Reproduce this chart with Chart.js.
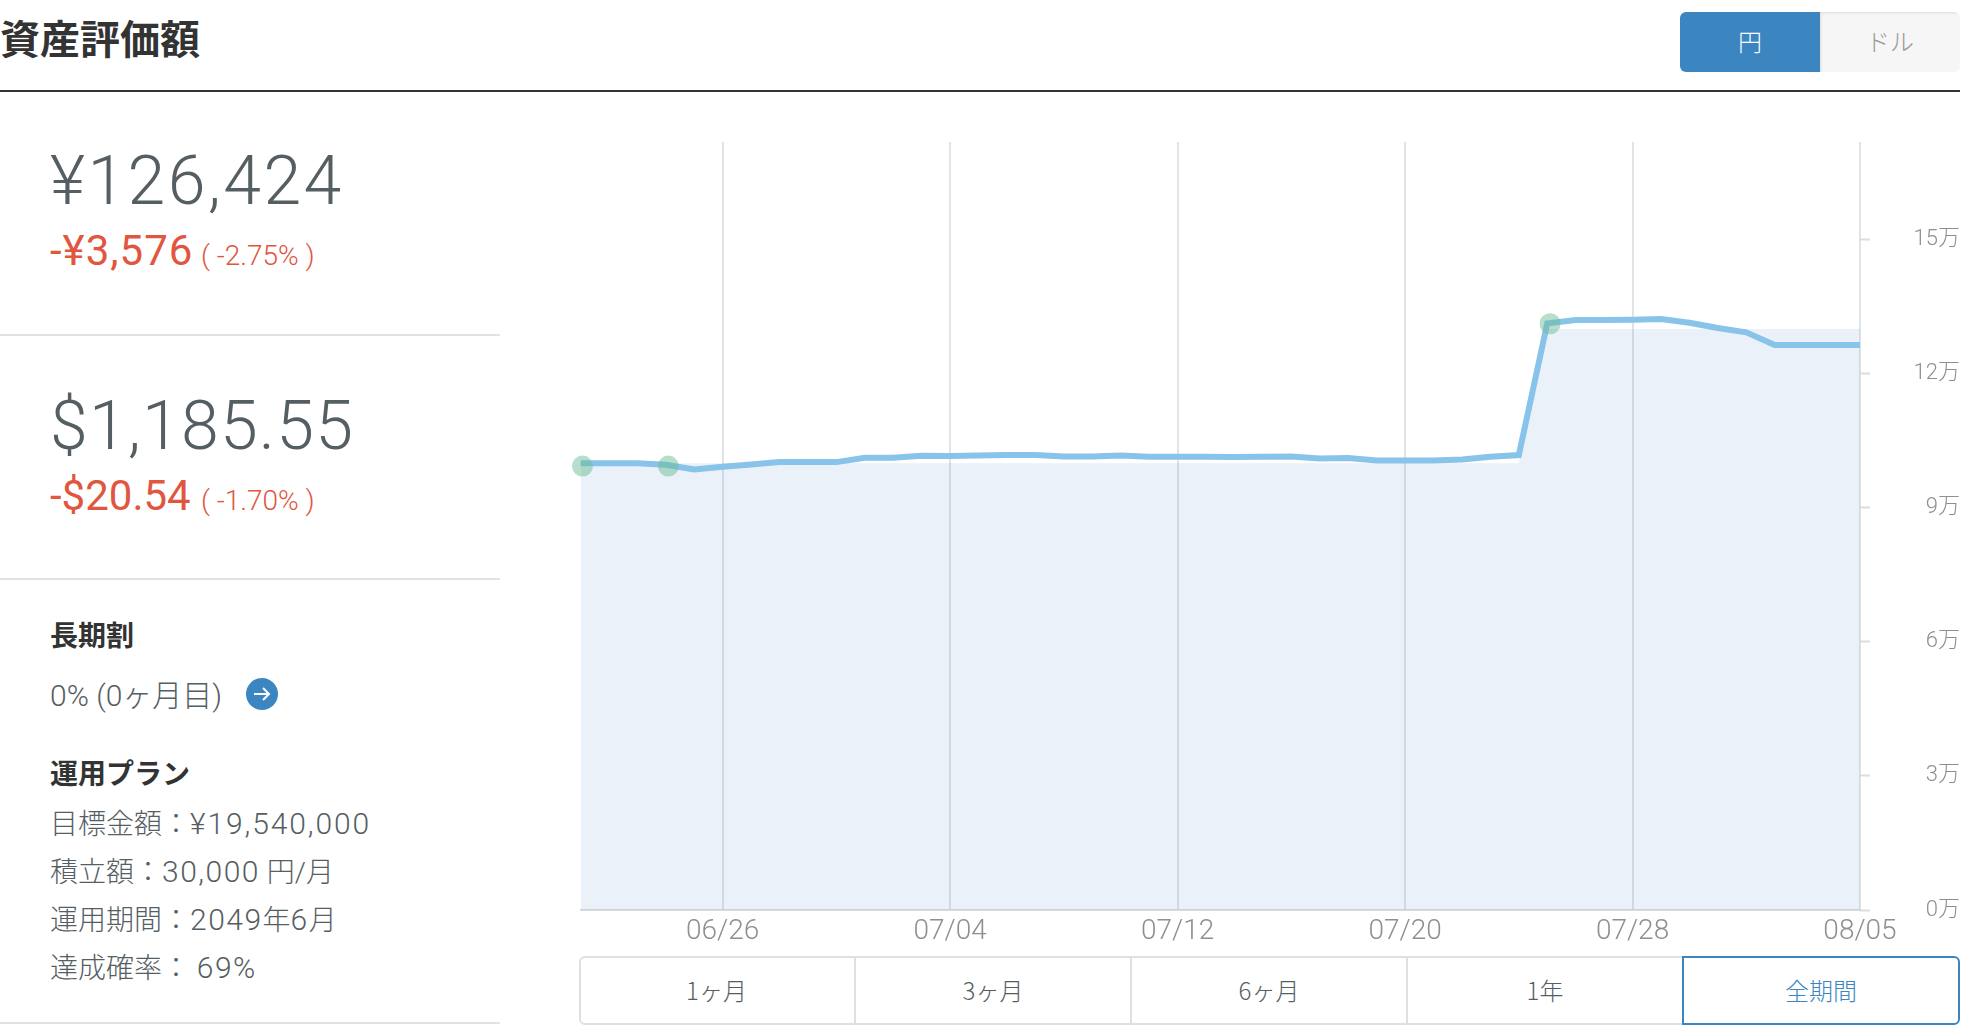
<!DOCTYPE html>
<html lang="ja">
<head>
<meta charset="utf-8">
<script src="https://cdn.jsdelivr.net/npm/chart.js@4"></script>
<style>
html,body{margin:0;padding:0;background:#fff;width:1966px;height:1032px;overflow:hidden}
body{font-family:"Roboto","Noto Sans CJK JP",sans-serif;font-weight:300;color:#555e63}
.t{position:absolute;white-space:nowrap;line-height:1;transform:translateY(-50%)}
.b{font-family:"Noto Sans CJK JP",sans-serif;font-weight:700;color:#333}
.rule{position:absolute;left:0;width:500px;height:2px;background:#e2e2e2}
.red{color:#e0563f;font-weight:400}
.n{font-size:30px;letter-spacing:1.5px}
.btn{position:absolute;display:flex;align-items:center;justify-content:center;box-sizing:border-box;font-size:24px;font-family:"Noto Sans CJK JP",sans-serif;font-weight:300;padding-bottom:3px}
canvas{position:absolute;left:570px;top:130px}
</style>
</head>
<body>
<div class="t b" style="left:0;top:37px;font-size:40px">資産評価額</div>
<div style="position:absolute;left:0;top:90px;width:1960px;height:2px;background:#333"></div>

<div class="btn" style="left:1680px;top:12px;width:140px;height:60px;background:#3b86c1;color:#fff;border-radius:6px 0 0 6px">円</div>
<div class="btn" style="left:1820px;top:12px;width:140px;height:60px;background:#f6f6f6;color:#999;border-radius:0 6px 6px 0;box-shadow:inset 3px 3px 3px -2px #ddd">ドル</div>

<div class="t" style="left:50px;top:181px;font-size:68px;letter-spacing:2.4px">¥126,424</div>
<div class="t red" style="left:50px;top:251px;font-size:42px;letter-spacing:1px">-¥3,576</div>
<div class="t red" style="left:201px;top:256px;font-size:28px;font-weight:300">( -2.75% )</div>
<div class="rule" style="top:334px"></div>

<div class="t" style="left:50px;top:426px;font-size:68px;letter-spacing:1.2px">$1,185.55</div>
<div class="t red" style="left:50px;top:496px;font-size:42px">-$20.54</div>
<div class="t red" style="left:201px;top:501px;font-size:28px;font-weight:300">( -1.70% )</div>
<div class="rule" style="top:578px"></div>

<div class="t b" style="left:50px;top:634px;font-size:28px">長期割</div>
<div class="t" style="left:50px;top:696px;font-size:30px">0% (0ヶ月目)</div>
<svg style="position:absolute;left:246px;top:678px" width="32" height="32" viewBox="0 0 32 32"><circle cx="16" cy="16" r="16" fill="#3b86c1"/><path d="M8 16H23M17 10L23 16L17 22" fill="none" stroke="#fff" stroke-width="2"/></svg>
<div class="t b" style="left:50px;top:772px;font-size:28px">運用プラン</div>
<div class="t" style="left:50px;top:824px;font-size:28px">目標金額：<span class="n" style="letter-spacing:1.9px">¥19,540,000</span></div>
<div class="t" style="left:50px;top:872px;font-size:28px">積立額：<span class="n">30,000</span> 円/月</div>
<div class="t" style="left:50px;top:920px;font-size:28px">運用期間：<span class="n">2049</span>年<span class="n">6</span>月</div>
<div class="t" style="left:50px;top:968px;font-size:28px">達成確率： <span class="n">69%</span></div>
<div class="rule" style="top:1022px"></div>

<div style="position:absolute;left:579px;top:956px;width:1381px;height:69px;box-sizing:border-box;border:2px solid #e0e0e0;border-radius:6px"></div>
<div class="btn" style="left:579px;top:956px;width:277px;height:69px;border-right:2px solid #e0e0e0">1ヶ月</div>
<div class="btn" style="left:856px;top:956px;width:276px;height:69px;border-right:2px solid #e0e0e0">3ヶ月</div>
<div class="btn" style="left:1132px;top:956px;width:276px;height:69px;border-right:2px solid #e0e0e0">6ヶ月</div>
<div class="btn" style="left:1408px;top:956px;width:274px;height:69px">1年</div>
<div class="btn" style="left:1682px;top:956px;width:278px;height:69px;border:2px solid #3b86c1;border-radius:0 6px 6px 0;color:#3b86c1;background:#fff">全期間</div>

<canvas id="c" width="1390" height="820" style="width:1390px;height:820px"></canvas>

<script>
const dates = ["06/21","06/22","06/23","06/24","06/25","06/26","06/27","06/28","06/29","06/30",
  "07/01","07/02","07/03","07/04","07/05","07/06","07/07","07/08","07/09","07/10",
  "07/11","07/12","07/13","07/14","07/15","07/16","07/17","07/18","07/19","07/20",
  "07/21","07/22","07/23","07/24","07/25","07/26","07/27","07/28","07/29","07/30",
  "07/31","08/01","08/02","08/03","08/04","08/05"];
const assetValue = [100000,100000,100000,99630,98600,99180,99720,100230,100230,100230,
  101200,101200,101640,101580,101730,101800,101800,101510,101510,101730,
  101420,101420,101420,101400,101420,101510,101060,101130,100610,100610,
  100610,100840,101420,101800,131280,132020,132020,132090,132250,131420,
  130230,129270,126424,126424,126424,126424];
const invested = [100000,100000,100000,100000,100000,100000,100000,100000,100000,100000,
  100000,100000,100000,100000,100000,100000,100000,100000,100000,100000,
  100000,100000,100000,100000,100000,100000,100000,100000,100000,100000,
  100000,100000,100000,100000,130000,130000,130000,130000,130000,130000,
  130000,130000,130000,130000,130000,130000];
const eventDays = [0.07,3.09,34.1];
const eventValues = [99340,99340,131190];
const xTickDays = [5,13,21,29,37,45];
const yTickValues = [0,30000,60000,90000,120000,150000];
const yTop = 171870;

const tickFont = '"Roboto","Noto Sans CJK JP",sans-serif';
new Chart(document.getElementById('c'), {
  type: 'line',
  data: { datasets: [
    { label:'入金', data: eventDays.map((d,i)=>({x:d,y:eventValues[i]})), showLine:false, clip:false,
      pointRadius:10.5, pointHoverRadius:10.5, pointBackgroundColor:'rgba(110,190,150,0.5)', pointBorderWidth:0 },
    { label:'評価額', data: assetValue.map((v,i)=>({x:i,y:v})), borderColor:'#88c3ea', borderWidth:6,
      borderCapStyle:'butt', pointRadius:0, tension:0, fill:false },
    { label:'元本', data: invested.map((v,i)=>({x:i,y:v})), borderWidth:0, pointRadius:0, tension:0,
      fill:'origin', backgroundColor:'rgba(60,130,195,0.11)' }
  ]},
  options: {
    responsive:false, animation:false, devicePixelRatio:1,
    layout:{padding:{left:10,top:12,right:0,bottom:0}},
    plugins:{legend:{display:false},tooltip:{enabled:false}},
    scales:{
      x:{ type:'linear', min:0, max:45,
        afterBuildTicks:s=>{s.ticks=xTickDays.map(v=>({value:v}));},
        afterFit:s=>{s.height=40;s.paddingLeft=0;s.paddingRight=0;},
        border:{color:'#dcdcdc',width:2},
        grid:{color:'#e1e4e6',lineWidth:2,drawTicks:false},
        ticks:{autoSkip:false,maxRotation:0,padding:5,color:'#8f8f8f',font:{family:tickFont,size:28,weight:300},
          callback:v=>dates[v]}
      },
      y:{ position:'right', min:0, max:yTop,
        afterBuildTicks:s=>{s.ticks=yTickValues.map(v=>({value:v}));},
        afterFit:s=>{s.width=100;s.paddingTop=0;s.paddingBottom=0;},
        border:{display:false},
        grid:{drawOnChartArea:false,drawTicks:true,tickLength:10,tickColor:'#dcdcdc',tickWidth:2},
        ticks:{padding:46,crossAlign:'far',color:'#8f8f8f',font:{family:tickFont,size:22,weight:300},
          callback:v=>(v/10000)+'万'}
      }
    }
  }
});
</script>
</body>
</html>
